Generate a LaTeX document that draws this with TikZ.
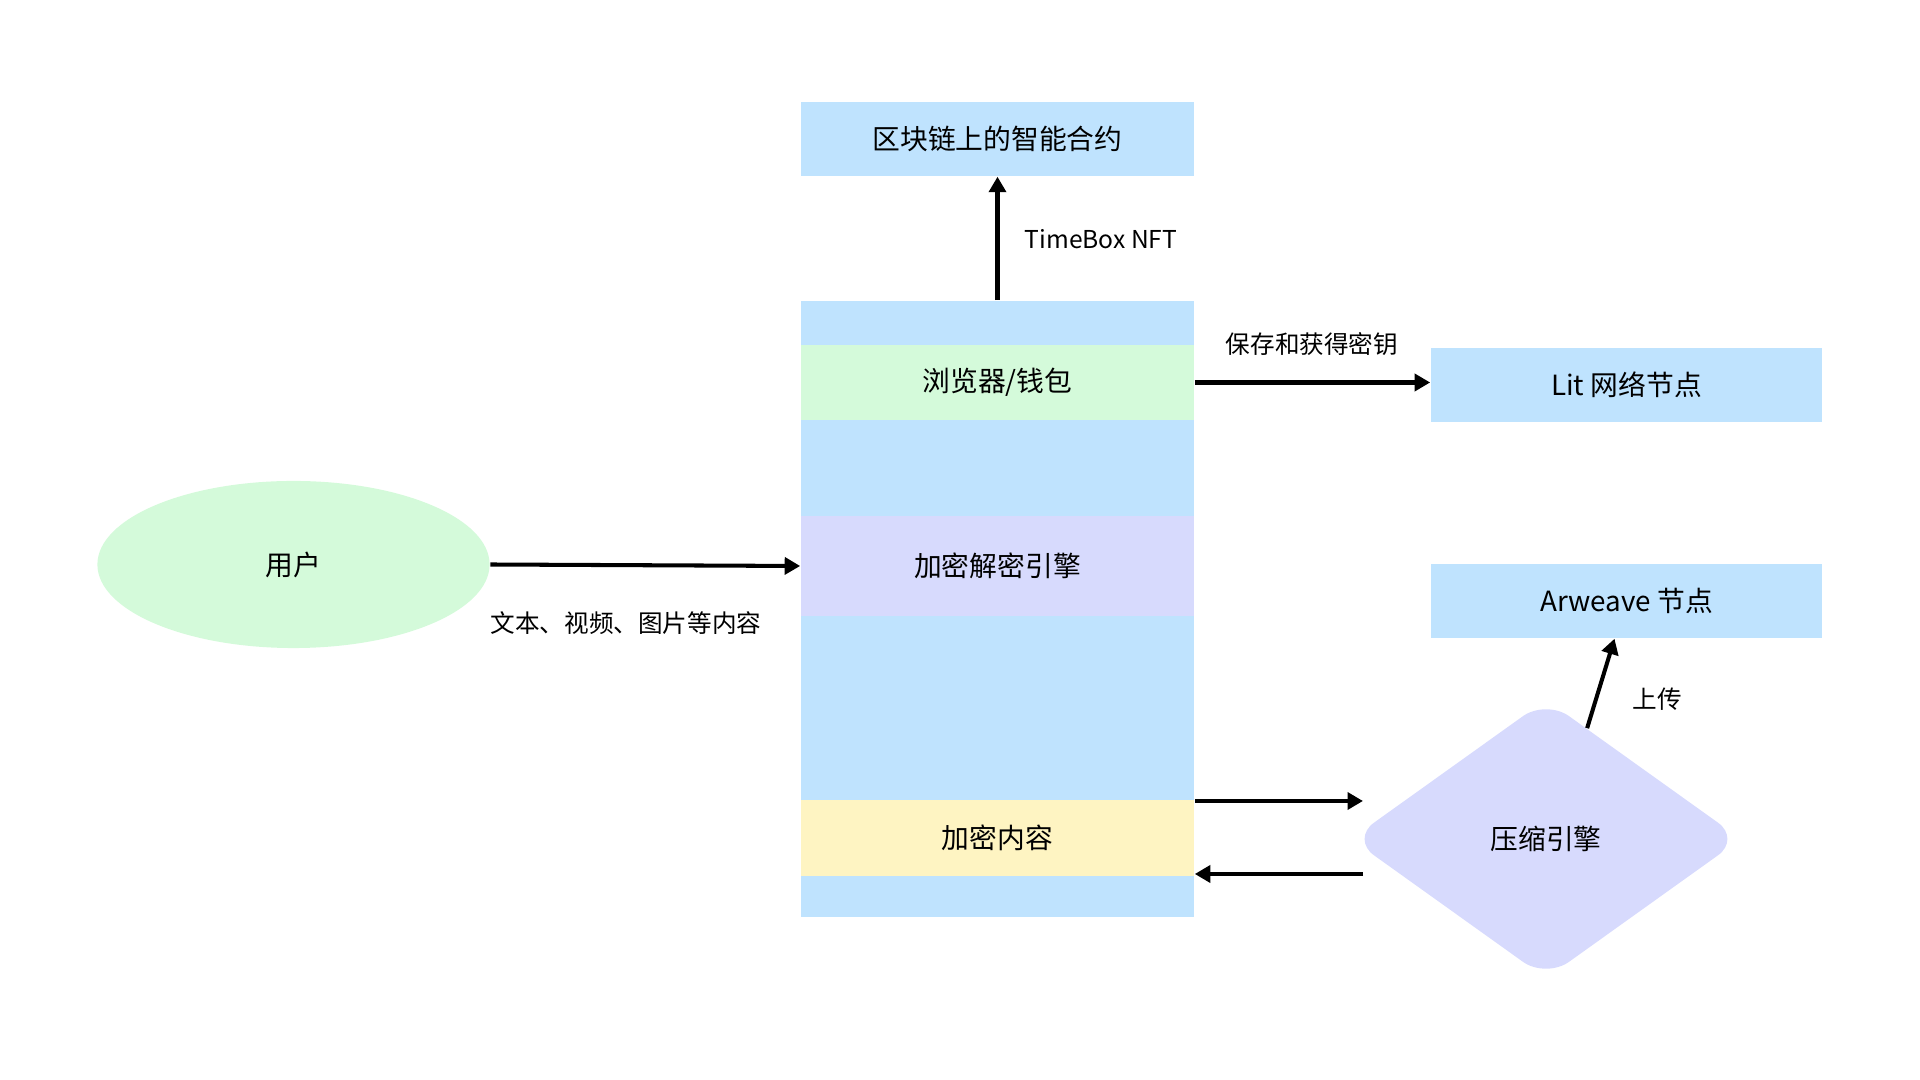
\documentclass[tikz,border=0pt]{standalone}
\usepackage{fontspec}
\setmainfont{Noto Sans CJK SC}
\usepackage{xcolor}
\usetikzlibrary{arrows.meta,calc,shapes.geometric}
\definecolor{boxblue}{RGB}{191,227,254}
\definecolor{boxgreen}{RGB}{212,250,218}
\definecolor{boxpurple}{RGB}{215,218,253}
\definecolor{boxyellow}{RGB}{254,244,194}

\begin{document}
\begin{tikzpicture}[x=0.01cm, y=-0.01cm, >={Triangle[length=4.4pt,width=4.8pt]}, line join=round,
    band/.style={rectangle,inner sep=0pt,minimum width=3.93cm,font=\fontsize{7.9}{9}\selectfont},
    sidebox/.style={rectangle,fill=boxblue,inner sep=0pt,minimum width=3.91cm,minimum height=0.74cm,font=\fontsize{7.9}{9}\selectfont},
    flow/.style={->,line width=1.15pt},
    lbl/.style={inner sep=0pt,font=\fontsize{7}{8}\selectfont}]
  \useasboundingbox (0,0) rectangle (1920,1080);
  % main column and its bands
  \node[band,fill=boxblue,minimum height=6.16cm] (column) at (997.5,609) {};
  \node[band,fill=boxgreen,minimum height=0.75cm] (wallet) at (997.5,382.5) {浏览器/钱包};
  \node[band,fill=boxpurple,minimum height=1.00cm] (engine) at (997.5,566) {加密解密引擎};
  \node[band,fill=boxyellow,minimum height=0.76cm] (content) at (997.5,838) {加密内容};
  % other nodes
  \node[sidebox,minimum width=3.93cm] (contract) at (997.5,139) {区块链上的智能合约};
  \node[sidebox] (lit) at (1626.5,385) {Lit 网络节点};
  \node[sidebox] (arweave) at (1626.5,601) {Arweave 节点};
  \node[ellipse,fill=boxgreen,inner sep=0pt,minimum width=3.92cm,minimum height=1.67cm,font=\fontsize{7.9}{9}\selectfont] (user) at (293.5,564.5) {用户};
  \node[diamond,fill=boxpurple,inner sep=0pt,minimum width=3.9cm,minimum height=2.79cm,rounded corners=8pt,font=\fontsize{7.9}{9}\selectfont] (compress) at (1546,839) {压缩引擎};
  \coordinate (toComp) at (1363,801);
  \coordinate (fromComp) at (1363,874);
  % connectors
  \draw[flow] (column.north) -- (contract.south);
  \draw[flow] (wallet.east) -- (wallet.east -| lit.west);
  \draw[flow] (user.east) -- (engine.west);
  \draw[flow] (toComp -| content.east) -- (toComp);
  \draw[flow] (fromComp) -- (fromComp -| content.east);
  \draw[flow] ($(compress.north)!0.21!(compress.east)$) -- ($(arweave.south)+(-12,0)$);
  % labels
  \node[lbl,anchor=west] (nftlabel) at (1024,239) {TimeBox NFT};
  \node[lbl] (keylabel) at (1312,344) {保存和获得密钥};
  \node[lbl] (medialabel) at (626,623) {文本、视频、图片等内容};
  \node[lbl] (uplabel) at (1657,699) {上传};
\end{tikzpicture}
\end{document}
